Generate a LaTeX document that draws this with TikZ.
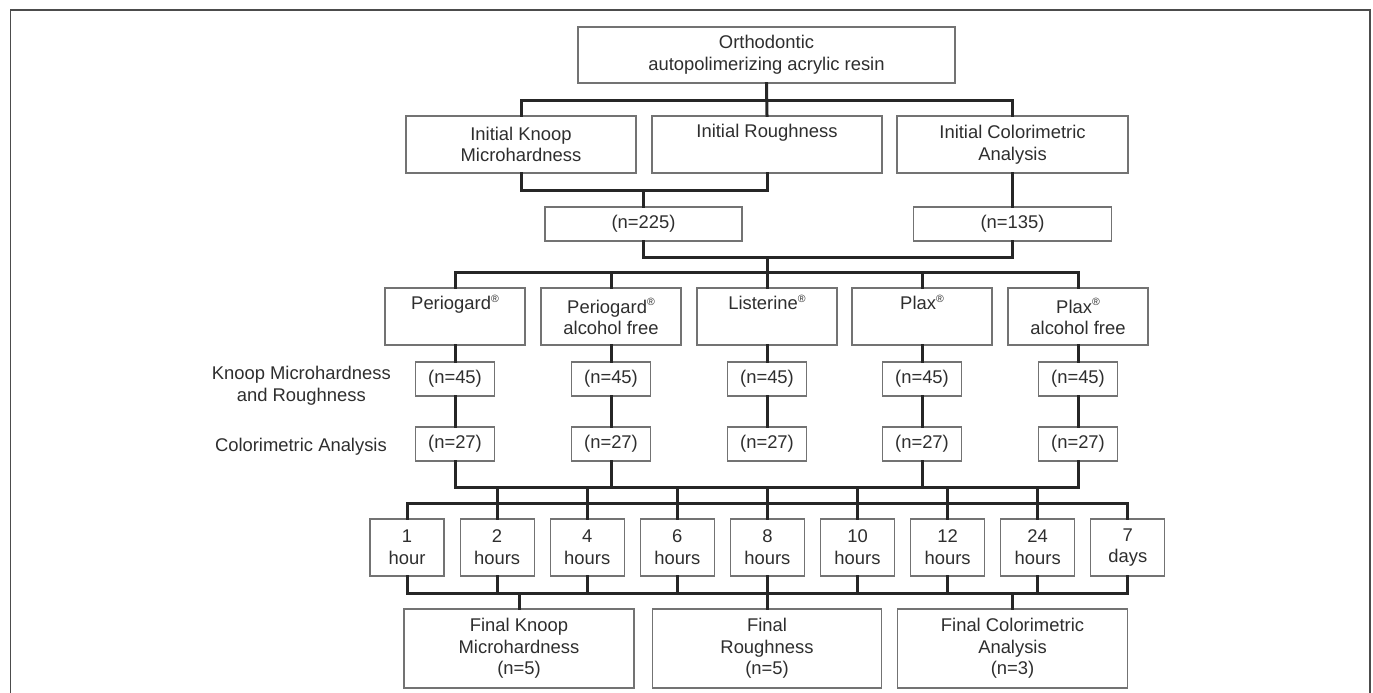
\documentclass[tikz,border=0pt]{standalone}
\usepackage{fontspec}
\setmainfont{Liberation Sans}
\newcommand{\regmark}{\raisebox{0.42em}{\fontsize{10.5}{10.5}\selectfont\textregistered}}
\begin{document}
\begin{tikzpicture}[x=1pt,y=-1pt,
  box/.style={draw=black!55, line width=1.2pt, fill=white, inner sep=0pt, align=center, anchor=center,
    font=\fontsize{18.4}{21.7}\selectfont, text=black!82},
  link/.style={draw=black!85, line width=3pt, line cap=rect},
  lbl/.style={inner sep=0pt, align=center, font=\fontsize{18.4}{21.7}\selectfont, text=black!82},
  frame/.style={draw=black!70, line width=1.6pt}]
\useasboundingbox (0,0) rectangle (1373,693);
\draw[frame] (10.5,720) -- (10.5,10) -- (1370,10) -- (1370,720);

% junction coordinates
\coordinate (j1) at (767,100);
\coordinate (j2) at (643.5,190);
\coordinate (j3) at (767,257);
\coordinate (j4) at (767,272);
\coordinate (j5) at (767,487);
\coordinate (j6) at (767,503);
\coordinate (j7) at (767,593);

% boxes
\node[box, minimum width=377pt, minimum height=56pt] (top) at (766.5,55) {Orthodontic\\autopolimerizing acrylic resin};
\node[box, minimum width=230pt, minimum height=57pt] (kn) at (521,144.5) {Initial Knoop\\Microhardness};
\node[box, minimum width=230pt, minimum height=57pt] (ro) at (767,144.5) {Initial Roughness\\\strut};
\node[box, minimum width=231pt, minimum height=57pt] (co) at (1012.5,144.5) {Initial Colorimetric\\Analysis};
\node[box, minimum width=197pt, minimum height=34pt] (nA) at (643.5,224) {(n=225)};
\node[box, minimum width=198pt, minimum height=34pt] (nB) at (1012.5,224) {(n=135)};

\foreach \i/\x/\t in {1/455/{Periogard\regmark\\\strut},
                      2/611/{Periogard\regmark\\alcohol free},
                      3/767/{Listerine\regmark\\\strut},
                      4/922/{Plax\regmark\\\strut},
                      5/1078/{Plax\regmark\\alcohol free}}{
  \node[box, minimum width=140pt, minimum height=57pt] (t\i) at (\x,316.5) {\t};
  \node[box, minimum width=79pt, minimum height=34pt] (a\i) at (\x,379) {(n=45)};
  \node[box, minimum width=79pt, minimum height=34pt] (c\i) at (\x,444) {(n=27)};
}

\node[lbl, anchor=east] (l1) at (391,386) {Knoop Microhardness\\and Roughness};
\node[lbl, anchor=east] (l2) at (387,447) {Colorimetric Analysis};

\foreach \i/\x/\a/\b in {1/407/1/hour, 2/497.1/2/hours, 3/587.2/4/hours, 4/677.3/6/hours,
                         5/767.4/8/hours, 6/857.5/10/hours, 7/947.6/12/hours,
                         8/1037.7/24/hours, 9/1127.8/7/days}{
  \node[box, minimum width=74pt, minimum height=57pt] (h\i) at (\x,547.5) {\a\\\b};
}

\node[box, minimum width=230pt, minimum height=79pt] (f1) at (519,648.5) {Final Knoop\\Microhardness\\(n=5)};
\node[box, minimum width=229pt, minimum height=79pt] (f2) at (767,648.5) {Final\\Roughness\\(n=5)};
\node[box, minimum width=230pt, minimum height=79pt] (f3) at (1012.5,648.5) {Final Colorimetric\\Analysis\\(n=3)};

% connectors
\draw[link] (top.south) -- (ro.north);
\draw[link] (kn.north) |- (j1) -| (co.north);
\draw[link] (kn.south) |- (j2) -| (ro.south);
\draw[link] (j2) -- (nA.north);
\draw[link] (co.south) -- (nB.north);
\draw[link] (nA.south) |- (j3) -| (nB.south);
\draw[link] (j3) -- (t3.north);
\draw[link] (t1.north) |- (j4) -| (t5.north);
\draw[link] (t2.north) -- (t2.north |- j4);
\draw[link] (t4.north) -- (t4.north |- j4);
\foreach \i in {1,...,5}{
  \draw[link] (t\i.south) -- (a\i.north);
  \draw[link] (a\i.south) -- (c\i.north);
}
\draw[link] (c1.south) |- (j5) -| (c5.south);
\foreach \i in {2,4}{\draw[link] (c\i.south) -- (c\i.south |- j5);}
\foreach \i in {2,...,8}{\draw[link] (h\i.north |- j5) -- (h\i.north);}
\draw[link] (h1.north) |- (j6) -| (h9.north);
\draw[link] (h1.south) |- (j7) -| (h9.south);
\foreach \i in {2,...,8}{\draw[link] (h\i.south) -- (h\i.south |- j7);}
\foreach \i in {1,2,3}{\draw[link] (f\i.north |- j7) -- (f\i.north);}
\end{tikzpicture}
\end{document}
